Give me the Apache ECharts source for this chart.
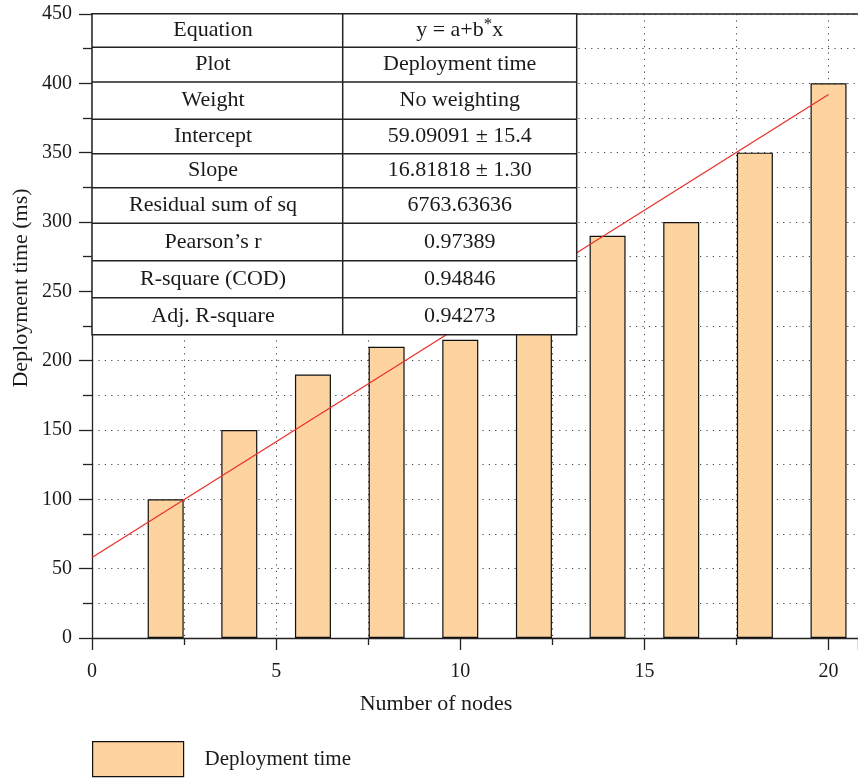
<!DOCTYPE html>
<html>
<head>
<meta charset="utf-8">
<script src="https://cdn.jsdelivr.net/npm/echarts@6/dist/echarts.min.js"></script>
<style>html,body{margin:0;padding:0;background:#fff;}#c{width:858px;height:778px;}</style>
</head>
<body>
<div id="c"></div>
<script>
// ---- data ----
const nodes = [2, 4, 6, 8, 10, 12, 14, 16, 18, 20];
const deployTime = [100, 150, 190, 210, 215, 230, 290, 300, 350, 400];
const fitX = [0, 20];
const fitY = [58, 392];
const xTicks = [0, 5, 10, 15, 20];
const yTicks = [0, 50, 100, 150, 200, 250, 300, 350, 400, 450];
const tableLabels = ['Equation', 'Plot', 'Weight', 'Intercept', 'Slope', 'Residual sum of sq', 'Pearson\u2019s r', 'R-square (COD)', 'Adj. R-square'];
const tableValues = ['{n|y = a+b}{s|*}{n|x}', 'Deployment time', 'No weighting', '59.09091 \u00b1 15.4', '16.81818 \u00b1 1.30', '6763.63636', '0.97389', '0.94846', '0.94273'];
const seriesName = 'Deployment time';

// ---- layout ----
const FONT = 'Liberation Serif';
const chart = echarts.init(document.getElementById('c'));
const gridStyle = { color: '#444', width: 1, type: [1.2, 5.2] };

const tblLeft = 92, tblMid = 342.7, tblRight = 576.7;
const rowEdges = [13.7, 47.3, 82, 119.3, 153.7, 187.7, 223.3, 260.7, 297.7, 334.7];
const ZT = 100;
const tableEls = [];
tableEls.push({ type: 'rect', z: ZT, shape: { x: tblLeft, y: rowEdges[0], width: tblRight - tblLeft, height: rowEdges[rowEdges.length - 1] - rowEdges[0] },
  style: { fill: '#fff', stroke: '#222', lineWidth: 1.5 } });
tableEls.push({ type: 'line', z: ZT + 1, shape: { x1: tblMid, y1: rowEdges[0], x2: tblMid, y2: rowEdges[rowEdges.length - 1] }, style: { stroke: '#222', lineWidth: 1.5 } });
for (let i = 1; i < rowEdges.length - 1; i++) {
  tableEls.push({ type: 'line', z: ZT + 1, shape: { x1: tblLeft, y1: rowEdges[i], x2: tblRight, y2: rowEdges[i] }, style: { stroke: '#222', lineWidth: 1.5 } });
}
tableLabels.forEach((t, i) => {
  const cy = (rowEdges[i] + rowEdges[i + 1]) / 2;
  tableEls.push({ type: 'text', z: ZT + 2, x: 213, y: cy, style: { text: t, fill: '#1a1a1a', font: '22px "' + FONT + '"', textAlign: 'center', textVerticalAlign: 'middle' } });
  tableEls.push({ type: 'text', z: ZT + 2, x: (tblMid + tblRight) / 2, y: cy, style: { text: tableValues[i], fill: '#1a1a1a', font: '22px "' + FONT + '"', textAlign: 'center', textVerticalAlign: 'middle',
    rich: { n: { fontSize: 22, fontFamily: FONT, fill: '#1a1a1a' }, s: { fontSize: 17, fontFamily: FONT, fill: '#1a1a1a', padding: [0, 0, 12, 0] } } } });
});

chart.setOption({
  animation: false,
  backgroundColor: '#fff',
  grid: { left: 92, right: 0, top: 14, bottom: 140, containLabel: false },
  legend: {
    data: [seriesName], left: 92, top: 741, padding: 0, itemWidth: 91, itemHeight: 35, icon: 'rect',
    itemStyle: { color: '#FDD3A0', borderColor: '#111', borderWidth: 1.2 },
    textStyle: { fontFamily: FONT, fontSize: 21, color: '#1a1a1a', padding: [0, 0, 0, 16] }
  },
  xAxis: [{
    type: 'value', min: 0, max: 20.8, interval: 5,
    axisLine: { show: true, lineStyle: { color: '#222', width: 1.3 } },
    axisTick: { show: true, length: 12, lineStyle: { color: '#222', width: 1.3 } },
    minorTick: { show: true, splitNumber: 2, length: 7, lineStyle: { color: '#222', width: 1.3 } },
    axisLabel: { fontFamily: FONT, fontSize: 20, color: '#1a1a1a', margin: 24, showMaxLabel: false,
      formatter: v => (xTicks.indexOf(v) >= 0 ? String(v) : '') },
    splitLine: { show: true, lineStyle: gridStyle },
    minorSplitLine: { show: true, lineStyle: gridStyle }
  }, {
    type: 'value', position: 'top', min: 0, max: 20.8,
    axisLine: { show: true, onZero: false, lineStyle: { color: '#222', width: 1.5 } },
    axisTick: { show: false }, axisLabel: { show: false }, splitLine: { show: false }
  }],
  yAxis: {
    type: 'value', min: 0, max: 450, interval: 50,
    axisLine: { show: true, lineStyle: { color: '#222', width: 1.3 } },
    axisTick: { show: true, length: 13, lineStyle: { color: '#222', width: 1.3 } },
    minorTick: { show: true, splitNumber: 2, length: 9, lineStyle: { color: '#222', width: 1.3 } },
    axisLabel: { fontFamily: FONT, fontSize: 20, color: '#1a1a1a', margin: 20,
      formatter: v => (yTicks.indexOf(v) >= 0 ? String(v) : '') },
    splitLine: { show: true, lineStyle: gridStyle },
    minorSplitLine: { show: true, lineStyle: gridStyle }
  },
  series: [{
    name: seriesName, type: 'bar', barWidth: 36,
    itemStyle: { color: '#FDD3A0', borderColor: '#111', borderWidth: 1.2 },
    data: nodes.map((x, i) => [x, deployTime[i]]), z: 2
  }, {
    name: 'fit', type: 'line', showSymbol: false, symbol: 'none',
    lineStyle: { color: '#E8322A', width: 1.3 },
    data: fitX.map((x, i) => [x, fitY[i]]), z: 3
  }],
  graphic: [
    { type: 'group', z: ZT, children: tableEls },
    { type: 'text', x: 436, y: 704, z: ZT, style: { text: 'Number of nodes', font: '22px "' + FONT + '"', fill: '#1a1a1a', textAlign: 'center', textVerticalAlign: 'middle' } },
    { type: 'text', x: 21, y: 288, rotation: Math.PI / 2, z: ZT, style: { text: 'Deployment time (ms)', font: '22px "' + FONT + '"', fill: '#1a1a1a', textAlign: 'center', textVerticalAlign: 'middle' } }
  ]
});
</script>
</body>
</html>
